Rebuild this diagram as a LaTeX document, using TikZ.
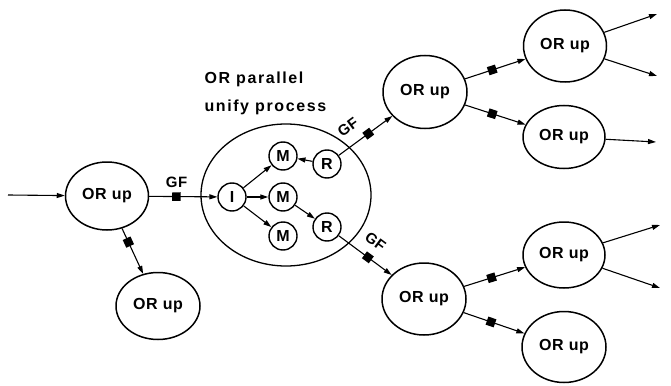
\documentclass[tikz,border=0pt]{standalone}
\usepackage{fontspec}
\setmainfont{Liberation Sans}
\usetikzlibrary{shapes.geometric,arrows.meta}
\tikzset{gate/.pic={\fill (-4.25,-4.25) rectangle (4.25,4.25);}}
\begin{document}
\begin{tikzpicture}[x=1pt,y=-1pt,
  orproc/.style={ellipse,draw,line width=1.5pt,inner sep=0pt,
    font=\bfseries\fontsize{16}{16}\selectfont\addfontfeature{LetterSpace=4}},
  unit/.style={circle,draw,line width=1.4pt,minimum size=28pt,inner sep=0pt,
    font=\bfseries\fontsize{16}{16}\selectfont},
  flow/.style={line width=1.1pt,-{Triangle[length=8pt,width=5pt]}},
  lbl/.style={font=\bfseries\fontsize{15}{15}\selectfont\addfontfeature{LetterSpace=4}}]
\useasboundingbox (0,0) rectangle (671,385);

% entry process and its spare child
\node[orproc,minimum width=83pt,minimum height=68pt] (src) at (107,196) {OR up};
\node[orproc,minimum width=84pt,minimum height=67pt] (side) at (158,306) {OR up};

% OR parallel unify process: outline with its inner units
\draw[line width=1.3pt] (286,195) ellipse [x radius=85, y radius=71];
\node[anchor=north west,align=left,font=\bfseries\fontsize{16}{28}\selectfont\addfontfeature{LetterSpace=10}]
  (title) at (201,68) {OR parallel\\unify process};
\node[unit] (I) at (232,197) {I};
\node[unit] (M1) at (283,156) {M};
\node[unit] (M2) at (283,197) {M};
\node[unit] (M3) at (283,236) {M};
\node[unit] (R1) at (327,164) {R};
\node[unit] (R2) at (327,227) {R};

% second level
\node[orproc,minimum width=84pt,minimum height=73pt] (up) at (425,92) {OR up};
\node[orproc,minimum width=84pt,minimum height=72pt] (lo) at (424,299) {OR up};

% third level
\node[orproc,minimum width=83pt,minimum height=72pt] (upA) at (565,46) {OR up};
\node[orproc,minimum width=82pt,minimum height=63pt] (upB) at (564,137) {OR up};
\node[orproc,minimum width=82pt,minimum height=66pt] (loA) at (564,255) {OR up};
\node[orproc,minimum width=84pt,minimum height=71pt] (loB) at (564,347) {OR up};

% free ends
\coordinate (in) at (8,195);
\coordinate (oA1) at (657,14);
\coordinate (oA2) at (657,76);
\coordinate (oB) at (656,142);
\coordinate (oC1) at (660,225);
\coordinate (oC2) at (660,288);

% connectors, with a gate square on each guarded link
\draw[flow] (in) -- (src);
\draw[flow] (src) -- pic[pos=0.4,sloped]{gate} node[lbl,pos=0.4,above=5pt]{GF} (I);
\draw[flow] (src) -- pic[pos=0.3,sloped]{gate} (side);
\draw[flow] (I) -- (M1);
\draw[flow] (I) -- (M2);
\draw[flow] (I) -- (M3);
\draw[flow] (R1) -- (M1);
\draw[flow] (M2) -- (R2);
\draw[flow] (R1) -- pic[pos=0.55,sloped]{gate} node[lbl,pos=0.36,sloped,above=8pt]{GF} (up);
\draw[flow] (R2) -- pic[pos=0.55,sloped]{gate} node[lbl,pos=0.5,sloped,above=8pt]{GF} (lo);
\draw[flow] (up) -- pic[pos=0.45,sloped]{gate} (upA);
\draw[flow] (up) -- pic[pos=0.45,sloped]{gate} (upB);
\draw[flow] (lo) -- pic[pos=0.45,sloped]{gate} (loA);
\draw[flow] (lo) -- pic[pos=0.45,sloped]{gate} (loB);
\draw[flow] (upA) -- (oA1);
\draw[flow] (upA) -- (oA2);
\draw[flow] (upB) -- (oB);
\draw[flow] (loA) -- (oC1);
\draw[flow] (loA) -- (oC2);
\end{tikzpicture}
\end{document}
